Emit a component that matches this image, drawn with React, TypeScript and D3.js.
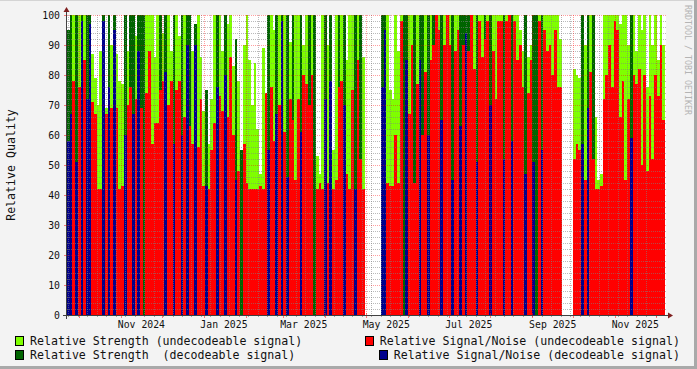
import React from "react";
import * as d3 from "d3";

const W = 697;
const H = 369;

// time span covered by the data (2-day bins)
const startDate = new Date(Date.UTC(2024, 8, 22));
const endDate = new Date(Date.UTC(2025, 11, 8));
const binDays = 2;

// bin kinds: u = undecodeable (strength + S/N), d = decodeable (strength + S/N),
// x = decodeable strength with undecodeable S/N, g = decodeable strength only, - = no data
const kinds =
  "ddudududdu" +
  "uuudududuu" +
  "uduxdudxgu" +
  "uuuuxuduud" +
  "uududxuduu" +
  "uduuuduudu" +
  "uuduguuuuu" +
  "uuuuduudud" +
  "uduxuuduux" +
  "uguuududuu" +
  "xuduuuduxu" +
  "------dduu" +
  "uuuugduuxu" +
  "dxuduxuudu" +
  "uuduudxdxu" +
  "uduuxuduuu" +
  "uduuduuuud" +
  "uudguduuuu" +
  "uuu----uuu" +
  "duduxuuuuu" +
  "uuuuuuuudu" +
  "uuuuuuuuuuu";

const strength: (number | null)[] = [
  95, 100, 100, 100, 100, 100, 100, 100, 100, 87,
  79, 70, 88, 100, 69, 100, 90, 100, 87, 78,
  77, 100, 88, 100, 100, 93, 100, 100, 100, 100,
  100, 100, 86, 100, 100, 94, 100, 100, 88, 100,
  100, 93, 100, 100, 100, 100, 88, 97, 100, 86,
  68, 75, 57, 72, 100, 100, 100, 88, 100, 97,
  100, 83, 92, 78, 55, 90, 100, 85, 70, 84,
  62, 47, 89, 74, 100, 100, 95, 100, 100, 100,
  100, 100, 91, 100, 100, 100, 100, 90, 100, 100,
  100, 100, 53, 47, 100, 100, 90, 100, 55, 100,
  100, 100, 100, 85, 100, 100, 100, 100, 100, 86,
  null, null, null, null, null, null, 100, 100, 100, 75,
  72, 100, 88, 100, 100, 100, 100, 100, 100, 100,
  100, 100, 100, 100, 100, 100, 100, 100, 100, 100,
  100, 100, 100, 100, 100, 100, 100, 100, 100, 100,
  100, 100, 100, 100, 100, 100, 100, 100, 100, 100,
  100, 100, 100, 100, 100, 100, 100, 95, 88, 100,
  86, 90, 100, 100, 100, 100, 100, 100, 100, 100,
  100, 100, 92, null, null, null, null, 82, 80, 79,
  100, 90, 100, 100, 100, 66, 45, 47, 100, 100,
  100, 100, 100, 100, 97, 100, 100, 90, 100, 100,
  88, 100, 95, 100, 76, 100, 90, 100, 85, 100, 90,
];

const snr: (number | null)[] = [
  58, 67, 78, 51, 76, 98, 85, 72, 97, 71,
  67, 42, 42, 98, 67, 76, 69, 95, 69, 42,
  43, 60, 70, 76, 67, 72, 88, 69, 0, 74,
  88, 57, 64, 64, 75, 78, 81, 70, 78, 57,
  75, 78, 60, 66, 90, 63, 57, 90, 56, 72,
  43, 43, 42, 55, 64, 76, 73, 68, 80, 66,
  86, 60, 45, 48, 0, 57, 44, 42, 42, 42,
  42, 43, 42, 74, 55, 76, 58, 67, 70, 98,
  61, 46, 72, 65, 45, 72, 61, 80, 77, 70,
  80, 0, 42, 44, 42, 72, 44, 78, 42, 45,
  76, 78, 70, 47, 42, 75, 42, 85, 52, 42,
  null, null, null, null, null, null, 76, 95, 44, 43,
  43, 60, 44, 98, 0, 85, 67, 90, 44, 77,
  85, 60, 81, 60, 85, 90, 100, 95, 65, 90,
  100, 90, 45, 88, 95, 63, 90, 94, 88, 100,
  82, 51, 98, 86, 92, 98, 70, 88, 72, 98,
  98, 52, 98, 100, 58, 98, 85, 90, 76, 47,
  74, 85, 51, 0, 98, 55, 95, 88, 90, 80,
  95, 76, 76, null, null, null, null, 52, 57, 55,
  57, 45, 69, 81, 52, 42, 42, 43, 72, 80,
  90, 76, 98, 95, 66, 78, 45, 72, 59, 80,
  77, 82, 50, 80, 48, 73, 52, 80, 73, 90, 65,
];

const yTicks = [0, 10, 20, 30, 40, 50, 60, 70, 80, 90, 100];
const xLabelMonths = [
  new Date(Date.UTC(2024, 10, 1)),
  new Date(Date.UTC(2025, 0, 1)),
  new Date(Date.UTC(2025, 2, 1)),
  new Date(Date.UTC(2025, 4, 1)),
  new Date(Date.UTC(2025, 6, 1)),
  new Date(Date.UTC(2025, 8, 1)),
  new Date(Date.UTC(2025, 10, 1)),
];

const legendItems = [
  { label: "Relative Strength (undecodeable signal)", color: "#7fff00", col: 0, row: 0 },
  { label: "Relative Signal/Noise (undecodeable signal)", color: "#ff0000", col: 1, row: 0 },
  { label: "Relative Strength  (decodeable signal)", color: "#006400", col: 0, row: 1 },
  { label: "Relative Signal/Noise (decodeable signal)", color: "#00008c", col: 1, row: 1 },
];

const C_LG = "#7fff00";
const C_DG = "#006400";
const C_RED = "#ff0000";
const C_BLUE = "#00008c";

const FONT = "'DejaVu Sans Mono', monospace";

export default function App() {
  const left = 67;
  const right = 665;
  const top = 15;
  const bottom = 315;

  const x = d3.scaleUtc().domain([startDate, endDate]).range([left, right]);
  const y = d3.scaleLinear().domain([0, 100]).range([bottom, top]);

  const bars: JSX.Element[] = [];
  const layers: { color: string; items: { x: number; w: number; v: number }[] }[] = [
    { color: C_LG, items: [] },
    { color: C_DG, items: [] },
    { color: C_RED, items: [] },
    { color: C_BLUE, items: [] },
  ];
  for (let i = 0; i < kinds.length; i++) {
    const k = kinds[i];
    const s = strength[i];
    const n = snr[i];
    if (k === "-" || s == null) continue;
    const t0 = d3.utcDay.offset(startDate, i * binDays);
    const t1 = d3.utcDay.offset(startDate, (i + 1) * binDays);
    const x0 = Math.round(x(t0));
    const x1 = Math.round(x(t1));
    const item = { x: x0, w: x1 - x0 };
    if (k === "u") {
      layers[0].items.push({ ...item, v: s });
      if (n) layers[2].items.push({ ...item, v: n });
    } else if (k === "d") {
      layers[1].items.push({ ...item, v: s });
      if (n) layers[3].items.push({ ...item, v: n });
    } else if (k === "x") {
      layers[1].items.push({ ...item, v: s });
      if (n) layers[2].items.push({ ...item, v: n });
    } else if (k === "g") {
      layers[1].items.push({ ...item, v: s });
    }
  }
  layers.forEach((layer, li) => {
    layer.items.forEach((it, j) => {
      const yt = Math.round(y(it.v));
      bars.push(
        <rect
          key={`b${li}-${j}`}
          x={it.x}
          y={yt}
          width={it.w}
          height={bottom - yt}
          fill={layer.color}
        />
      );
    });
  });

  // grid
  const minorH = d3.range(2, 100, 2).filter((v) => v % 10 !== 0);
  const majorH = yTicks.filter((v) => v > 0);
  const months = d3.utcMonth.range(startDate, endDate);
  const weeks = d3.utcMonday.range(startDate, endDate);
  const monthSet = new Set(months.map((m) => +m));

  const gridMinor = "rgba(130,130,130,0.55)";
  const gridMajor = "rgba(255,0,0,0.38)";

  return (
    <svg
      width={W}
      height={H}
      style={{ position: "absolute", left: 0, top: 0 }}
      shapeRendering="crispEdges"
    >
      <rect x={0} y={0} width={W} height={H} fill="#f3f3f3" />
      <rect x={0} y={0} width={W} height={1} fill="#d4d4d4" />
      <rect x={0} y={H - 3} width={W} height={3} fill="#a9a9a9" />
      <rect x={W - 3} y={0} width={3} height={H} fill="#a9a9a9" />
      <rect x={left} y={top} width={right + 1 - left} height={bottom - top} fill="#ffffff" />

      {bars}

      <g fill="none" strokeWidth={1}>
        {minorH.map((v) => (
          <line key={`mh${v}`} x1={left} x2={right + 1} y1={y(v) + 0.5} y2={y(v) + 0.5} stroke={gridMinor} strokeDasharray="1,1" />
        ))}
        {weeks
          .filter((w) => !monthSet.has(+w))
          .map((w) => (
            <line key={`mv${+w}`} x1={Math.round(x(w)) + 0.5} x2={Math.round(x(w)) + 0.5} y1={top} y2={bottom} stroke={gridMinor} strokeDasharray="1,1" />
          ))}
        {majorH.map((v) => (
          <line key={`Mh${v}`} x1={left} x2={right + 1} y1={y(v) + 0.5} y2={y(v) + 0.5} stroke={gridMajor} strokeDasharray="1,1" />
        ))}
        {months.map((m) => (
          <line key={`Mv${+m}`} x1={Math.round(x(m)) + 0.5} x2={Math.round(x(m)) + 0.5} y1={top} y2={bottom} stroke={gridMajor} strokeDasharray="1,1" />
        ))}
        {/* tick marks below axis */}
        {weeks.map((w) => (
          <line key={`tw${+w}`} x1={Math.round(x(w)) + 0.5} x2={Math.round(x(w)) + 0.5} y1={bottom} y2={bottom + 2} stroke="rgba(130,130,130,0.7)" />
        ))}
        {months.map((m) => (
          <line key={`tm${+m}`} x1={Math.round(x(m)) + 0.5} x2={Math.round(x(m)) + 0.5} y1={bottom - 2} y2={bottom + 3} stroke="rgba(255,0,0,0.5)" />
        ))}
        {yTicks.map((v) => (
          <line key={`ty${v}`} x1={left - 3} x2={left} y1={y(v) + 0.5} y2={y(v) + 0.5} stroke="rgba(255,0,0,0.5)" />
        ))}
      </g>

      {/* axes */}
      <line x1={left - 4} x2={right + 4} y1={bottom + 0.5} y2={bottom + 0.5} stroke="#404040" />
      <line x1={left - 0.5} x2={left - 0.5} y1={bottom + 4} y2={top - 4} stroke="#404040" />
      <path d={`M${right + 3},${bottom - 2.5} L${right + 8},${bottom + 0.5} L${right + 3},${bottom + 3.5} Z`} fill="#7f1f1f" shapeRendering="auto" />
      <path d={`M${left - 3.5},${top - 3} L${left - 0.5},${top - 8} L${left + 2.5},${top - 3} Z`} fill="#7f1f1f" shapeRendering="auto" />

      {/* y tick labels */}
      <g fontFamily={FONT} fontSize={9.8} fill="#111" textAnchor="end">
        {yTicks.map((v) => (
          <text key={`yl${v}`} x={60} y={y(v) + 3.6}>
            {v}
          </text>
        ))}
      </g>

      {/* x tick labels (centered mid-month) */}
      <g fontFamily={FONT} fontSize={9.8} fill="#111" textAnchor="middle">
        {xLabelMonths.map((m) => (
          <text key={`xl${+m}`} x={x(d3.utcDay.offset(m, 15))} y={328}>
            {d3.utcFormat("%b %Y")(m)}
          </text>
        ))}
      </g>

      {/* y title */}
      <text
        transform="translate(15,165) rotate(-90)"
        fontFamily={FONT}
        fontSize={11.6}
        fill="#111"
        textAnchor="middle"
      >
        Relative Quality
      </text>

      {/* watermark */}
      <text
        transform="translate(684.5,5) rotate(90)"
        fontFamily={FONT}
        fontSize={8.3}
        fill="#b4b4b4"
        textAnchor="start"
      >
        RRDTOOL / TOBI OETIKER
      </text>

      {/* legend */}
      <g fontFamily={FONT} fontSize={11.6} fill="#111">
        {legendItems.map((it) => {
          const charW = 11.6 * 0.602;
          const tx = it.col === 0 ? 30 : 680 - it.label.length * charW;
          const by = it.row === 0 ? 345 : 359;
          return (
            <g key={it.label}>
              <rect x={tx - 15 + 0.5} y={by - 8.5} width={8} height={9} fill={it.color} stroke="#000" strokeWidth={1} />
              <text x={tx} y={by} style={{ whiteSpace: "pre" }}>
                {it.label}
              </text>
            </g>
          );
        })}
      </g>
    </svg>
  );
}
